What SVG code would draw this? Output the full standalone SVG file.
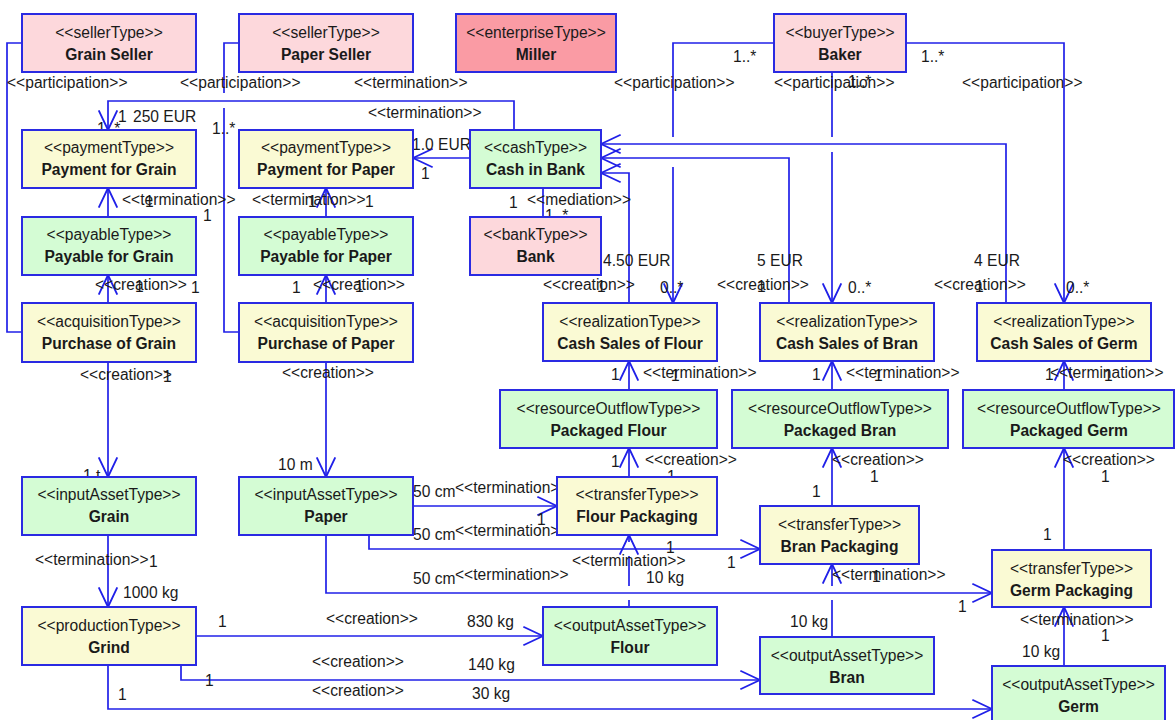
<svg xmlns="http://www.w3.org/2000/svg" width="1176" height="720" viewBox="0 0 1176 720">
<style>
  .box { stroke: #2a2ae2; stroke-width: 2; }
  .seller { fill: #fdd8dc; }
  .ent { fill: #fa9ba4; }
  .act { fill: #fafad4; }
  .res { fill: #d4fcd4; }
  .st { font-family: "Liberation Sans", Arial, sans-serif; font-size: 15.6px; fill: #1a1a1a; text-anchor: middle; }
  .nm { font-family: "Liberation Sans", Arial, sans-serif; font-size: 15.6px; font-weight: bold; fill: #1a1a1a; text-anchor: middle; }
  .lb { font-family: "Liberation Sans", Arial, sans-serif; font-size: 15.6px; fill: #1a1a1a; }
  .ln { fill: none; stroke: #2020e8; stroke-width: 1.7; }
  .ar { marker-end: url(#open); }
</style>
<defs>
  <marker id="open" markerUnits="userSpaceOnUse" markerWidth="24" markerHeight="24" viewBox="-20 -10 22 20" refX="0" refY="0" orient="auto">
    <path d="M-18,-8.5 L0,0 L-18,8.5" fill="none" stroke="#2020e8" stroke-width="1.7"/>
  </marker>
</defs>
<rect width="1176" height="720" fill="#ffffff"/>

<!-- connectors -->
<g id="connectors">
  <!-- participation: sellers to purchases -->
  <path class="ln" d="M22,43 H7 V332 H22"/>
  <path class="ln" d="M238,43 H224 V93"/>
  <path class="ln" d="M224,108 V332 H239"/>
  <!-- termination: cash to payments -->
  <path class="ln ar" d="M514,130 V101 H108 V130"/>
  <path class="ln ar" d="M470,158 H413"/>
  <!-- termination: payables to payments -->
  <path class="ln ar" d="M108,217 V188"/>
  <path class="ln ar" d="M326,217 V188"/>
  <!-- mediation -->
  <path class="ln" d="M543,188 V217"/>
  <!-- creation: purchases to payables -->
  <path class="ln ar" d="M108,303 V275"/>
  <path class="ln ar" d="M326,303 V275"/>
  <!-- creation: purchases to input assets -->
  <path class="ln ar" d="M108,362 V477"/>
  <path class="ln ar" d="M326,362 V477"/>
  <!-- creation: cash sales to cash -->
  <path class="ln ar" d="M629,303 V173 H601"/>
  <path class="ln ar" d="M789,303 V158 H601"/>
  <path class="ln ar" d="M1006,303 V144 H601"/>
  <!-- participation: baker to cash sales -->
  <path class="ln" d="M774,43 H673 V137"/>
  <path class="ln ar" d="M673,167 V303"/>
  <path class="ln" d="M832,72 V137"/>
  <path class="ln ar" d="M832,152 V303"/>
  <path class="ln ar" d="M906,43 H1064 V303"/>
  <!-- termination: packaged goods to cash sales -->
  <path class="ln ar" d="M629,390 V361"/>
  <path class="ln ar" d="M832,390 V361"/>
  <path class="ln ar" d="M1064,390 V361"/>
  <!-- creation: packaging to packaged goods -->
  <path class="ln ar" d="M629,477 V448"/>
  <path class="ln ar" d="M832,506 V448"/>
  <path class="ln ar" d="M1064,550 V448"/>
  <!-- termination: paper to packaging -->
  <path class="ln ar" d="M413,506 H557"/>
  <path class="ln ar" d="M369,535 V549 H760"/>
  <path class="ln ar" d="M326,535 V593 H992"/>
  <!-- termination: output assets to packaging -->
  <path class="ln" d="M629,607 V600"/>
  <path class="ln" d="M629,586 V556"/>
  <path class="ln ar" d="M629,542 V535"/>
  <path class="ln" d="M832,637 V600"/>
  <path class="ln ar" d="M832,586 V564"/>
  <path class="ln ar" d="M1064,666 V607"/>
  <!-- termination: grain to grind -->
  <path class="ln ar" d="M108,535 V607"/>
  <!-- creation: grind to outputs -->
  <path class="ln ar" d="M196,636 H543"/>
  <path class="ln ar" d="M181,665 V680 H760"/>
  <path class="ln ar" d="M108,665 V709 H992"/>
</g>

<!-- connector labels -->
<g id="labels" class="lb">
  <text x="7" y="88">&lt;&lt;participation&gt;&gt;</text>
  <text x="180" y="88">&lt;&lt;participation&gt;&gt;</text>
  <text x="354" y="88">&lt;&lt;termination&gt;&gt;</text>
  <text x="614" y="88">&lt;&lt;participation&gt;&gt;</text>
  <text x="774" y="88">&lt;&lt;participation&gt;&gt;</text>
  <text x="848" y="87">1..*</text>
  <text x="962" y="88">&lt;&lt;participation&gt;&gt;</text>
  <text x="733" y="62">1..*</text>
  <text x="921" y="62">1..*</text>
  <text x="368" y="118">&lt;&lt;termination&gt;&gt;</text>
  <text x="118" y="122">1</text>
  <text x="133" y="122">250 EUR</text>
  <text x="97" y="134">1..*</text>
  <text x="212" y="134">1..*</text>
  <text x="412" y="150">1.0 EUR</text>
  <text x="421" y="179">1</text>
  <text x="122" y="205">&lt;&lt;termination&gt;&gt;</text>
  <text x="145" y="207">1</text>
  <text x="203" y="221">1</text>
  <text x="252" y="205">&lt;&lt;termination&gt;&gt;</text>
  <text x="308" y="207">1</text>
  <text x="365" y="207">1</text>
  <text x="509" y="208">1</text>
  <text x="527" y="205">&lt;&lt;mediation&gt;&gt;</text>
  <text x="545" y="221">1..*</text>
  <text x="95" y="290">&lt;&lt;creation&gt;&gt;</text>
  <text x="135" y="292">1</text>
  <text x="191" y="293">1</text>
  <text x="292" y="293">1</text>
  <text x="313" y="290">&lt;&lt;creation&gt;&gt;</text>
  <text x="355" y="292">1</text>
  <text x="603" y="266">4.50 EUR</text>
  <text x="757" y="266">5 EUR</text>
  <text x="974" y="266">4 EUR</text>
  <text x="543" y="290">&lt;&lt;creation&gt;&gt;</text>
  <text x="597" y="292">1</text>
  <text x="660" y="293">0..*</text>
  <text x="717" y="290">&lt;&lt;creation&gt;&gt;</text>
  <text x="757" y="292">1</text>
  <text x="848" y="293">0..*</text>
  <text x="934" y="290">&lt;&lt;creation&gt;&gt;</text>
  <text x="975" y="292">1</text>
  <text x="1066" y="293">0..*</text>
  <text x="80" y="380">&lt;&lt;creation&gt;&gt;</text>
  <text x="163" y="382">1</text>
  <text x="282" y="378">&lt;&lt;creation&gt;&gt;</text>
  <text x="611" y="380">1</text>
  <text x="643" y="378">&lt;&lt;termination&gt;&gt;</text>
  <text x="671" y="381">1</text>
  <text x="812" y="380">1</text>
  <text x="846" y="378">&lt;&lt;termination&gt;&gt;</text>
  <text x="874" y="381">1</text>
  <text x="1045" y="380">1</text>
  <text x="1050" y="378">&lt;&lt;termination&gt;&gt;</text>
  <text x="1104" y="381">1</text>
  <text x="83" y="481">1 t</text>
  <text x="278" y="470">10 m</text>
  <text x="611" y="467">1</text>
  <text x="645" y="465">&lt;&lt;creation&gt;&gt;</text>
  <text x="667" y="482">1</text>
  <text x="812" y="497">1</text>
  <text x="832" y="465">&lt;&lt;creation&gt;&gt;</text>
  <text x="870" y="482">1</text>
  <text x="1043" y="540">1</text>
  <text x="1063" y="465">&lt;&lt;creation&gt;&gt;</text>
  <text x="1101" y="482">1</text>
  <text x="413" y="497">50 cm</text>
  <text x="455" y="493">&lt;&lt;termination&gt;&gt;</text>
  <text x="537" y="525">1</text>
  <text x="413" y="540">50 cm</text>
  <text x="455" y="536">&lt;&lt;termination&gt;&gt;</text>
  <text x="666" y="553">1</text>
  <text x="727" y="568">1</text>
  <text x="413" y="584">50 cm</text>
  <text x="455" y="580">&lt;&lt;termination&gt;&gt;</text>
  <text x="958" y="612">1</text>
  <text x="572" y="566">&lt;&lt;termination&gt;&gt;</text>
  <text x="646" y="583">10 kg</text>
  <text x="832" y="580">&lt;&lt;termination&gt;&gt;</text>
  <text x="872" y="582">1</text>
  <text x="790" y="627">10 kg</text>
  <text x="1020" y="625">&lt;&lt;termination&gt;&gt;</text>
  <text x="1101" y="641">1</text>
  <text x="1022" y="657">10 kg</text>
  <text x="35" y="565">&lt;&lt;termination&gt;&gt;</text>
  <text x="149" y="567">1</text>
  <text x="123" y="598">1000 kg</text>
  <text x="218" y="627">1</text>
  <text x="326" y="624">&lt;&lt;creation&gt;&gt;</text>
  <text x="467" y="627">830 kg</text>
  <text x="205" y="686">1</text>
  <text x="312" y="667">&lt;&lt;creation&gt;&gt;</text>
  <text x="468" y="670">140 kg</text>
  <text x="118" y="700">1</text>
  <text x="312" y="696">&lt;&lt;creation&gt;&gt;</text>
  <text x="472" y="699">30 kg</text>
</g>

<!-- nodes -->
<g id="grain-seller"><rect class="box seller" x="22" y="14" width="174" height="58"/><text class="st" x="109" y="38">&lt;&lt;sellerType&gt;&gt;</text><text class="nm" x="109" y="60">Grain Seller</text></g>
<g id="paper-seller"><rect class="box seller" x="239" y="14" width="174" height="58"/><text class="st" x="326" y="38">&lt;&lt;sellerType&gt;&gt;</text><text class="nm" x="326" y="60">Paper Seller</text></g>
<g id="miller"><rect class="box ent" x="456" y="14" width="160" height="58"/><text class="st" x="536" y="38">&lt;&lt;enterpriseType&gt;&gt;</text><text class="nm" x="536" y="60">Miller</text></g>
<g id="baker"><rect class="box seller" x="774" y="14" width="132" height="58"/><text class="st" x="840" y="38">&lt;&lt;buyerType&gt;&gt;</text><text class="nm" x="840" y="60">Baker</text></g>

<g id="payment-grain"><rect class="box act" x="22" y="130" width="174" height="58"/><text class="st" x="109" y="153">&lt;&lt;paymentType&gt;&gt;</text><text class="nm" x="109" y="175">Payment for Grain</text></g>
<g id="payment-paper"><rect class="box act" x="239" y="130" width="174" height="58"/><text class="st" x="326" y="153">&lt;&lt;paymentType&gt;&gt;</text><text class="nm" x="326" y="175">Payment for Paper</text></g>
<g id="cash-in-bank"><rect class="box res" x="470" y="130" width="131" height="58"/><text class="st" x="535.5" y="153">&lt;&lt;cashType&gt;&gt;</text><text class="nm" x="535.5" y="175">Cash in Bank</text></g>

<g id="payable-grain"><rect class="box res" x="22" y="217" width="174" height="58"/><text class="st" x="109" y="240">&lt;&lt;payableType&gt;&gt;</text><text class="nm" x="109" y="262">Payable for Grain</text></g>
<g id="payable-paper"><rect class="box res" x="239" y="217" width="174" height="58"/><text class="st" x="326" y="240">&lt;&lt;payableType&gt;&gt;</text><text class="nm" x="326" y="262">Payable for Paper</text></g>
<g id="bank"><rect class="box seller" x="470" y="217" width="131" height="58"/><text class="st" x="535.5" y="240">&lt;&lt;bankType&gt;&gt;</text><text class="nm" x="535.5" y="262">Bank</text></g>

<g id="purchase-grain"><rect class="box act" x="22" y="303" width="174" height="59"/><text class="st" x="109" y="327">&lt;&lt;acquisitionType&gt;&gt;</text><text class="nm" x="109" y="349">Purchase of Grain</text></g>
<g id="purchase-paper"><rect class="box act" x="239" y="303" width="174" height="59"/><text class="st" x="326" y="327">&lt;&lt;acquisitionType&gt;&gt;</text><text class="nm" x="326" y="349">Purchase of Paper</text></g>
<g id="cash-sales-flour"><rect class="box act" x="543" y="303" width="174" height="58"/><text class="st" x="630" y="327">&lt;&lt;realizationType&gt;&gt;</text><text class="nm" x="630" y="349">Cash Sales of Flour</text></g>
<g id="cash-sales-bran"><rect class="box act" x="760" y="303" width="174" height="58"/><text class="st" x="847" y="327">&lt;&lt;realizationType&gt;&gt;</text><text class="nm" x="847" y="349">Cash Sales of Bran</text></g>
<g id="cash-sales-germ"><rect class="box act" x="977" y="303" width="174" height="58"/><text class="st" x="1064" y="327">&lt;&lt;realizationType&gt;&gt;</text><text class="nm" x="1064" y="349">Cash Sales of Germ</text></g>

<g id="packaged-flour"><rect class="box res" x="500" y="390" width="217" height="58"/><text class="st" x="608.5" y="414">&lt;&lt;resourceOutflowType&gt;&gt;</text><text class="nm" x="608.5" y="436">Packaged Flour</text></g>
<g id="packaged-bran"><rect class="box res" x="732" y="390" width="216" height="58"/><text class="st" x="840" y="414">&lt;&lt;resourceOutflowType&gt;&gt;</text><text class="nm" x="840" y="436">Packaged Bran</text></g>
<g id="packaged-germ"><rect class="box res" x="963" y="390" width="211" height="58"/><text class="st" x="1069" y="414">&lt;&lt;resourceOutflowType&gt;&gt;</text><text class="nm" x="1069" y="436">Packaged Germ</text></g>

<g id="grain"><rect class="box res" x="22" y="477" width="174" height="58"/><text class="st" x="109" y="500">&lt;&lt;inputAssetType&gt;&gt;</text><text class="nm" x="109" y="522">Grain</text></g>
<g id="paper"><rect class="box res" x="239" y="477" width="174" height="58"/><text class="st" x="326" y="500">&lt;&lt;inputAssetType&gt;&gt;</text><text class="nm" x="326" y="522">Paper</text></g>
<g id="flour-packaging"><rect class="box act" x="557" y="477" width="160" height="58"/><text class="st" x="637" y="500">&lt;&lt;transferType&gt;&gt;</text><text class="nm" x="637" y="522">Flour Packaging</text></g>
<g id="bran-packaging"><rect class="box act" x="760" y="506" width="159" height="58"/><text class="st" x="839.5" y="530">&lt;&lt;transferType&gt;&gt;</text><text class="nm" x="839.5" y="552">Bran Packaging</text></g>
<g id="germ-packaging"><rect class="box act" x="992" y="550" width="159" height="57"/><text class="st" x="1071.5" y="574">&lt;&lt;transferType&gt;&gt;</text><text class="nm" x="1071.5" y="596">Germ Packaging</text></g>

<g id="grind"><rect class="box act" x="22" y="607" width="174" height="58"/><text class="st" x="109" y="631">&lt;&lt;productionType&gt;&gt;</text><text class="nm" x="109" y="653">Grind</text></g>
<g id="flour"><rect class="box res" x="543" y="607" width="174" height="58"/><text class="st" x="630" y="631">&lt;&lt;outputAssetType&gt;&gt;</text><text class="nm" x="630" y="653">Flour</text></g>
<g id="bran"><rect class="box res" x="760" y="637" width="174" height="57"/><text class="st" x="847" y="661">&lt;&lt;outputAssetType&gt;&gt;</text><text class="nm" x="847" y="683">Bran</text></g>
<g id="germ"><rect class="box res" x="992" y="666" width="173" height="60"/><text class="st" x="1078.5" y="690">&lt;&lt;outputAssetType&gt;&gt;</text><text class="nm" x="1078.5" y="712">Germ</text></g>
</svg>
